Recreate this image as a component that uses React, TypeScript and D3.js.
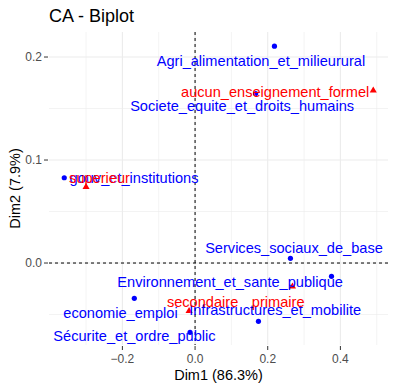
import React from "react";
import * as d3 from "d3";

const rowNames = [
  "Agri_alimentation_et_milieurural",
  "Societe_equite_et_droits_humains",
  "gouv_et_institutions",
  "Services_sociaux_de_base",
  "Environnement_et_sante_publique",
  "Infrastructures_et_mobilite",
  "economie_emploi",
  "Sécurite_et_ordre_public",
];
const rowDim1 = [0.2185, 0.1667, -0.36, 0.2625, 0.3755, 0.1744, -0.1672, -0.0138];
const rowDim2 = [0.2105, 0.1646, 0.0828, 0.0046, -0.0129, -0.0566, -0.0343, -0.0673];
// repelled label anchors (data units)
const rowLabelDim1 = [0.1813, 0.1295, -0.168, 0.2722, 0.0964, 0.2204, -0.2052, -0.1667];
const rowLabelDim2 = [0.1916, 0.1476, 0.0777, 0.01, -0.0233, -0.0505, -0.0534, -0.0757];

const colNames = ["aucun_enseignement_formel", "superieur", "secondaire", "primaire"];
const colDim1 = [0.4904, -0.3, -0.0165, 0.268];
const colDim2 = [0.1675, 0.0738, -0.0466, -0.0228];
const colLabelDim1 = [0.2204, -0.263, 0.0207, 0.2287];
const colLabelDim2 = [0.1615, 0.0777, -0.0427, -0.0427];

const xMajor = [-0.2, 0, 0.2, 0.4];
const xMinor = [-0.3, -0.1, 0.1, 0.3, 0.5];
const yMajor = [0, 0.1, 0.2];
const yMinor = [-0.05, 0.05, 0.15];

const W = 396;
const H = 391;
const FONT = "'Liberation Sans', Arial, Helvetica, sans-serif";
const BLUE = "#0000FF";
const RED = "#FF0000";

export default function App() {
  const left = 49, right = 388, top = 32, bottom = 345;
  const x = d3.scaleLinear().domain([-0.402, 0.531]).range([left, right]);
  const y = d3.scaleLinear().domain([-0.0796, 0.2243]).range([bottom, top]);
  const tri = d3.symbol().type(d3.symbolTriangle).size(22)() as string;

  const fmt = (v: number) => d3.format(".1f")(v);

  return (
    <svg width={W} height={H} style={{ position: "absolute", left: 0, top: 0, background: "#fff" }} fontFamily={FONT}>
      <rect width={W} height={H} fill="#fff" />
      {xMinor.map((v) => (
        <line key={"xm" + v} x1={x(v)} x2={x(v)} y1={top} y2={bottom} stroke="#ebebeb" strokeWidth={0.6} />
      ))}
      {yMinor.map((v) => (
        <line key={"ym" + v} x1={left} x2={right} y1={y(v)} y2={y(v)} stroke="#ebebeb" strokeWidth={0.6} />
      ))}
      {xMajor.map((v) => (
        <line key={"xM" + v} x1={x(v)} x2={x(v)} y1={top} y2={bottom} stroke="#ebebeb" strokeWidth={1.1} />
      ))}
      {yMajor.map((v) => (
        <line key={"yM" + v} x1={left} x2={right} y1={y(v)} y2={y(v)} stroke="#ebebeb" strokeWidth={1.1} />
      ))}
      <line x1={x(0)} x2={x(0)} y1={top} y2={bottom} stroke="#000" strokeWidth={1} strokeDasharray="3,3" />
      <line x1={left} x2={right} y1={y(0)} y2={y(0)} stroke="#000" strokeWidth={1} strokeDasharray="3,3" />

      {xMajor.map((v) => (
        <g key={"xt" + v}>
          <line x1={x(v)} x2={x(v)} y1={bottom + 1} y2={bottom + 5} stroke="#333" strokeWidth={1} />
          <text x={x(v)} y={363} textAnchor="middle" fontSize={12} fill="#4d4d4d">
            {fmt(v)}
          </text>
        </g>
      ))}
      {yMajor.map((v) => (
        <g key={"yt" + v}>
          <line x1={left - 5} x2={left - 1} y1={y(v)} y2={y(v)} stroke="#333" strokeWidth={1} />
          <text x={42} y={y(v) + 4} textAnchor="end" fontSize={12} fill="#4d4d4d">
            {fmt(v)}
          </text>
        </g>
      ))}

      {rowNames.map((n, i) => (
        <circle key={"rp" + n} cx={x(rowDim1[i])} cy={y(rowDim2[i])} r={2.6} fill={BLUE} />
      ))}
      {colNames.map((n, i) => (
        <path key={"cp" + n} d={tri} transform={`translate(${x(colDim1[i])},${y(colDim2[i])})`} fill={RED} />
      ))}
      {rowNames.map((n, i) => (
        <text key={"rl" + n} x={x(rowLabelDim1[i])} y={y(rowLabelDim2[i])} textAnchor="middle" fontSize={14.6} fill={BLUE}>
          {n}
        </text>
      ))}
      {colNames.map((n, i) => (
        <text key={"cl" + n} x={x(colLabelDim1[i])} y={y(colLabelDim2[i])} textAnchor="middle" fontSize={14.6} fill={RED}>
          {n}
        </text>
      ))}

      <text x={(left + right) / 2} y={380} textAnchor="middle" fontSize={14.5} fill="#000">
        Dim1 (86.3%)
      </text>
      <text transform={`translate(20,${(top + bottom) / 2}) rotate(-90)`} textAnchor="middle" fontSize={14.5} fill="#000">
        Dim2 (7.9%)
      </text>
      <text x={49} y={22} fontSize={18} fill="#000">
        CA - Biplot
      </text>
    </svg>
  );
}
